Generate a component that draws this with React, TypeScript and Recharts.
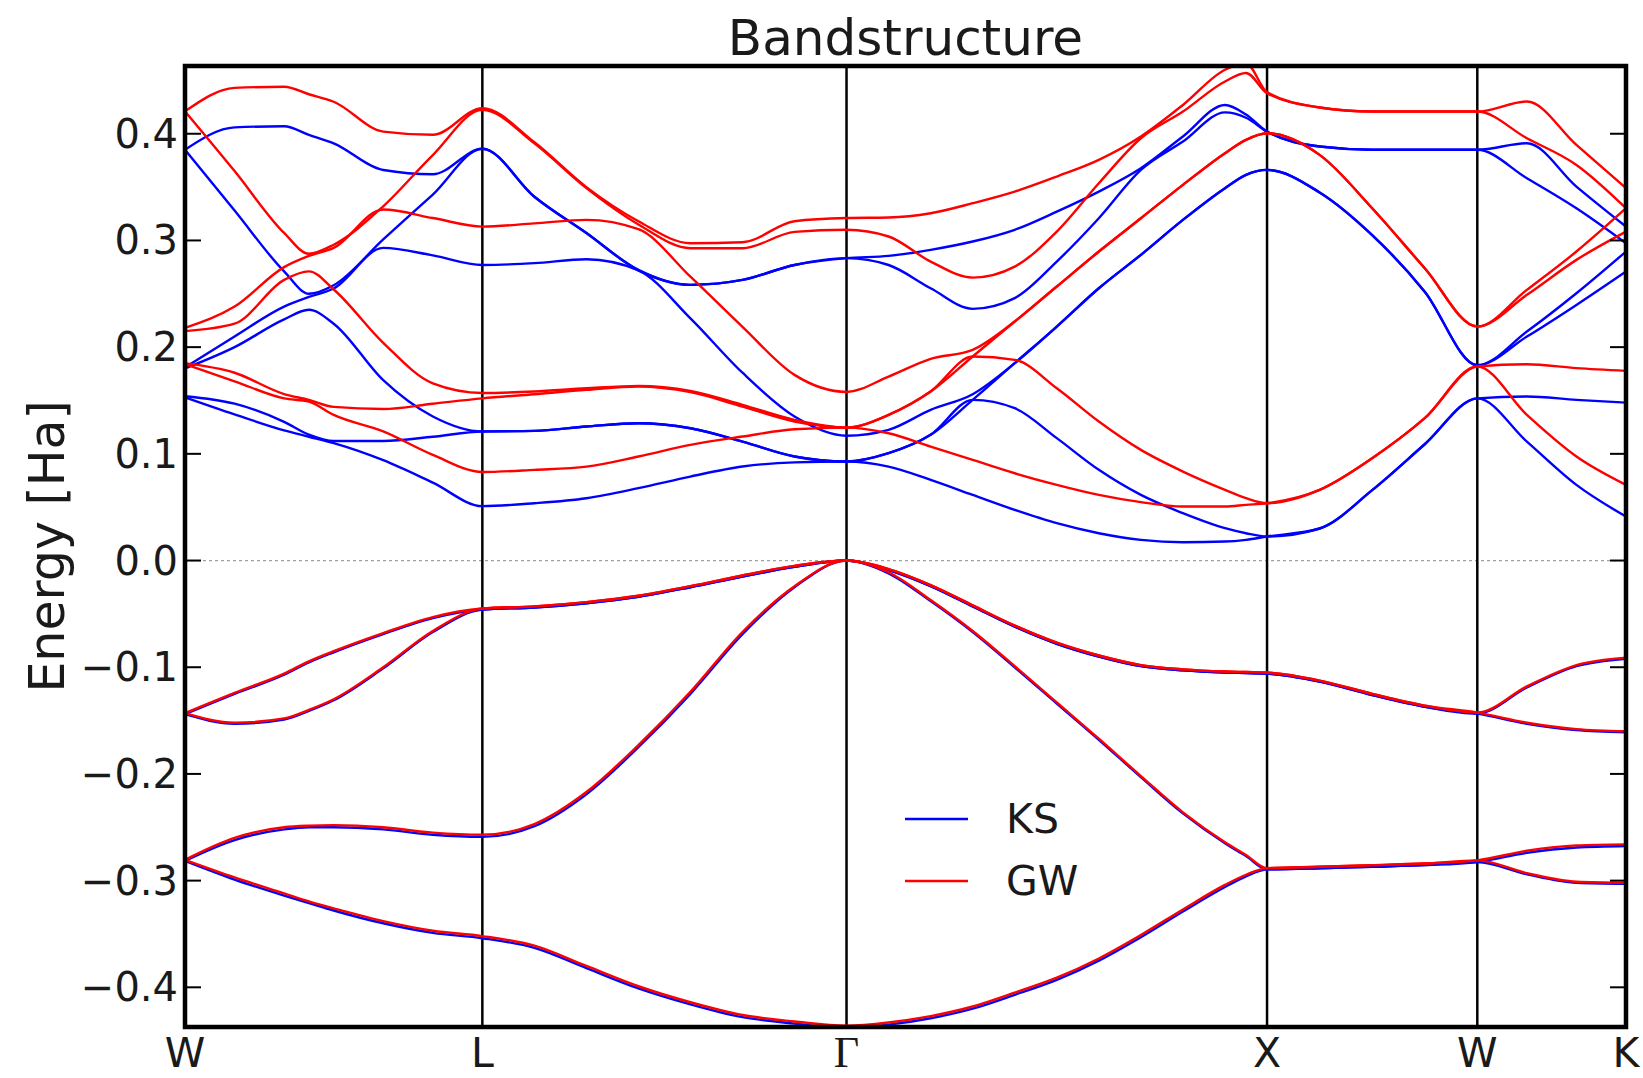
import React from 'react';
import { LineChart, Line, XAxis, YAxis, ReferenceLine } from 'recharts';

// k-path positions (units of 2pi/a), W-L-Γ-X-W-K
const kPath = [
  0, 0.1179, 0.2357, 0.2946, 0.3536, 0.4714, 0.5893, 0.7071,
  0.8308, 0.9545, 1.0782, 1.2019, 1.3257, 1.4494, 1.5731,
  1.6731, 1.7731, 1.8731, 1.9731, 2.0731, 2.1731, 2.2731, 2.3731, 2.4731, 2.5231, 2.5731,
  2.6981, 2.8231, 2.9481, 3.0731,
  3.1910, 3.3088, 3.4267,
];
const symK = [0, 0.7071, 1.5731, 2.5731, 3.0731, 3.4267];
const symLabels = ['W', 'L', 'Γ', 'X', 'W', 'K'];
const energyTicks = [-0.4, -0.3, -0.2, -0.1, 0, 0.1, 0.2, 0.3, 0.4];
const energyRange = [-0.4372, 0.4635];

// Kohn-Sham bands [Ha]
const ksV1 = [
  -0.2815, -0.299, -0.314, -0.321, -0.328, -0.34, -0.349, -0.354,
  -0.363, -0.382, -0.401, -0.416, -0.428, -0.434, -0.438,
  -0.435, -0.429, -0.42, -0.407, -0.393, -0.375, -0.353, -0.329, -0.306, -0.296, -0.2895,
  -0.2885, -0.287, -0.2855, -0.2825,
  -0.294, -0.302, -0.303,
];
const ksV2 = [
  -0.2815, -0.262, -0.252, -0.25, -0.25, -0.252, -0.257, -0.259,
  -0.249, -0.219, -0.175, -0.125, -0.069, -0.025, 0,
  -0.012, -0.038, -0.067, -0.1, -0.134, -0.168, -0.203, -0.237, -0.265, -0.277, -0.2895,
  -0.2885, -0.287, -0.2855, -0.2825,
  -0.274, -0.269, -0.2675,
];
const ksV3 = [
  -0.144, -0.153, -0.149, -0.141, -0.131, -0.101, -0.067, -0.046,
  -0.044, -0.04, -0.034, -0.025, -0.015, -0.006, 0,
  -0.009, -0.024, -0.043, -0.062, -0.078, -0.09, -0.099, -0.103, -0.105, -0.1055, -0.106,
  -0.1135, -0.126, -0.137, -0.1435,
  -0.153, -0.159, -0.161,
];
const ksV4 = [
  -0.144, -0.125, -0.107, -0.0955, -0.086, -0.069, -0.054, -0.046,
  -0.044, -0.04, -0.034, -0.025, -0.015, -0.006, 0,
  -0.009, -0.024, -0.043, -0.062, -0.078, -0.09, -0.099, -0.103, -0.105, -0.1055, -0.106,
  -0.1135, -0.126, -0.137, -0.1435,
  -0.119, -0.099, -0.092,
];
const ksC1 = [
  0.153, 0.137, 0.122, 0.116, 0.11, 0.094, 0.073, 0.051,
  0.0537, 0.0584, 0.0678, 0.0787, 0.0881, 0.092, 0.0928,
  0.088, 0.0756, 0.0615, 0.0475, 0.035, 0.0256, 0.0194, 0.0172, 0.0178, 0.0194, 0.0225,
  0.03, 0.066, 0.109, 0.152,
  0.1115, 0.0709, 0.0412,
];
const ksC2 = [
  0.154, 0.147, 0.13, 0.118, 0.112, 0.112, 0.116, 0.121,
  0.1215, 0.1256, 0.1287, 0.124, 0.1115, 0.0975, 0.0928,
  0.1006, 0.1178, 0.1506, 0.1428, 0.1147, 0.085, 0.0615, 0.0444, 0.0303, 0.0256, 0.0225,
  0.03, 0.066, 0.109, 0.152,
  0.1537, 0.1506, 0.148,
];
const ksC3 = [
  0.18, 0.2, 0.226, 0.235, 0.222, 0.169, 0.135, 0.121,
  0.1215, 0.1256, 0.1287, 0.124, 0.1115, 0.0975, 0.0928,
  0.1006, 0.1178, 0.1506, 0.185, 0.2193, 0.2552, 0.2865, 0.3193, 0.349, 0.3615, 0.3661,
  0.345, 0.305, 0.252, 0.183,
  0.2099, 0.2396, 0.2709,
];
const ksC4 = [
  0.181, 0.21, 0.238, 0.247, 0.255, 0.293, 0.286, 0.277,
  0.2787, 0.2824, 0.272, 0.227, 0.176, 0.135, 0.117,
  0.1225, 0.1412, 0.1559, 0.185, 0.2193, 0.2552, 0.2865, 0.3193, 0.349, 0.3615, 0.3661,
  0.345, 0.305, 0.252, 0.183,
  0.2146, 0.2505, 0.2896,
];
const ksC5 = [
  0.385, 0.328, 0.271, 0.25, 0.258, 0.301, 0.343, 0.386,
  0.341, 0.307, 0.272, 0.2584, 0.263, 0.277, 0.2834,
  0.277, 0.2552, 0.2359, 0.2459, 0.2802, 0.3208, 0.3661, 0.3927, 0.42, 0.415, 0.402,
  0.388, 0.385, 0.385, 0.385,
  0.3583, 0.3302, 0.2974,
];
const ksC6 = [
  0.385, 0.406, 0.407, 0.399, 0.391, 0.366, 0.362, 0.386,
  0.341, 0.307, 0.2724, 0.2584, 0.263, 0.277, 0.2834,
  0.2855, 0.2912, 0.299, 0.31, 0.327, 0.3458, 0.3677, 0.3974, 0.427, 0.418, 0.402,
  0.388, 0.385, 0.385, 0.385,
  0.3911, 0.3505, 0.313,
];

// GW quasiparticle bands [Ha]
const gwV1 = [
  -0.2805, -0.297, -0.312, -0.3195, -0.326, -0.338, -0.347, -0.352,
  -0.361, -0.38, -0.399, -0.414, -0.426, -0.432, -0.436,
  -0.433, -0.427, -0.418, -0.405, -0.391, -0.373, -0.351, -0.327, -0.304, -0.2945, -0.2883,
  -0.287, -0.2855, -0.284, -0.281,
  -0.293, -0.301, -0.302,
];
const gwV2 = [
  -0.2805, -0.26, -0.25, -0.2485, -0.248, -0.25, -0.255, -0.257,
  -0.247, -0.217, -0.173, -0.123, -0.067, -0.024, 0,
  -0.011, -0.037, -0.066, -0.099, -0.133, -0.167, -0.202, -0.236, -0.264, -0.276, -0.2883,
  -0.287, -0.2855, -0.284, -0.281,
  -0.272, -0.267, -0.266,
];
const gwV3 = [
  -0.143, -0.152, -0.148, -0.14, -0.13, -0.1, -0.066, -0.045,
  -0.043, -0.039, -0.033, -0.024, -0.014, -0.005, 0,
  -0.008, -0.023, -0.042, -0.061, -0.077, -0.089, -0.098, -0.102, -0.104, -0.1045, -0.105,
  -0.1125, -0.125, -0.136, -0.1425,
  -0.152, -0.158, -0.16,
];
const gwV4 = [
  -0.143, -0.124, -0.106, -0.0945, -0.085, -0.068, -0.053, -0.045,
  -0.043, -0.039, -0.033, -0.024, -0.014, -0.005, 0,
  -0.008, -0.023, -0.042, -0.061, -0.077, -0.089, -0.098, -0.102, -0.104, -0.1045, -0.105,
  -0.1125, -0.125, -0.136, -0.1425,
  -0.118, -0.098, -0.091,
];
const gwC1 = [
  0.184, 0.168, 0.152, 0.149, 0.1365, 0.121, 0.099, 0.083,
  0.085, 0.088, 0.0975, 0.1084, 0.1162, 0.123, 0.1246,
  0.1193, 0.1068, 0.0943, 0.0818, 0.0709, 0.0615, 0.0547, 0.0506, 0.0506, 0.0522, 0.0537,
  0.0662, 0.0959, 0.1334, 0.1818,
  0.1365, 0.0975, 0.0709,
];
const gwC2 = [
  0.185, 0.176, 0.156, 0.1506, 0.144, 0.142, 0.147, 0.152,
  0.1559, 0.16, 0.163, 0.1578, 0.1443, 0.1303, 0.1246,
  0.1365, 0.1584, 0.1912, 0.1881, 0.1615, 0.1303, 0.1037, 0.0834, 0.0662, 0.0584, 0.0537,
  0.0662, 0.0959, 0.1334, 0.1818,
  0.184, 0.1803, 0.1778,
];
const gwC3 = [
  0.215, 0.222, 0.263, 0.271, 0.254, 0.204, 0.166, 0.157,
  0.1584, 0.1615, 0.1637, 0.159, 0.1459, 0.1318, 0.1246,
  0.1365, 0.1584, 0.1912, 0.224, 0.2568, 0.2896, 0.3208, 0.3521, 0.3818, 0.3943, 0.4005,
  0.3802, 0.3302, 0.274, 0.2193,
  0.249, 0.2818, 0.3083,
];
const gwC4 = [
  0.218, 0.238, 0.275, 0.2855, 0.293, 0.329, 0.321, 0.313,
  0.316, 0.3193, 0.3105, 0.266, 0.219, 0.174, 0.158,
  0.1724, 0.189, 0.1974, 0.224, 0.2568, 0.2896, 0.3208, 0.3521, 0.3818, 0.3943, 0.4005,
  0.3802, 0.3302, 0.274, 0.2193,
  0.2537, 0.2896, 0.3302,
];
const gwC5 = [
  0.421, 0.365, 0.307, 0.2875, 0.296, 0.332, 0.38, 0.4225,
  0.391, 0.349, 0.315, 0.2927, 0.2927, 0.308, 0.31,
  0.3037, 0.2802, 0.2652, 0.2755, 0.3083, 0.3536, 0.3958, 0.4208, 0.449, 0.457, 0.438,
  0.4246, 0.4208, 0.4208, 0.4208,
  0.3958, 0.3708, 0.3302,
];
const gwC6 = [
  0.421, 0.443, 0.444, 0.437, 0.43, 0.402, 0.399, 0.424,
  0.392, 0.35, 0.318, 0.2974, 0.2983, 0.318, 0.321,
  0.3215, 0.3255, 0.3349, 0.3458, 0.3599, 0.3755, 0.3974, 0.427, 0.46, 0.466, 0.439,
  0.4246, 0.4208, 0.4208, 0.4208,
  0.4302, 0.3896, 0.349,
];

const ksBands = [ksV1, ksV2, ksV3, ksV4, ksC1, ksC2, ksC3, ksC4, ksC5, ksC6];
const gwBands = [gwV1, gwV2, gwV3, gwV4, gwC1, gwC2, gwC3, gwC4, gwC5, gwC6];

const rows = kPath.map((k, i) => {
  const row: Record<string, number> = { k };
  ksBands.forEach((b, j) => { row[`ks${j}`] = b[i]; });
  gwBands.forEach((b, j) => { row[`gw${j}`] = b[i]; });
  return row;
});

const W = 1643;
const H = 1078;
const PLOT_L = 185;
const PLOT_R = 1626;
const PLOT_T = 66;
const PLOT_B = 1027;
const SANS = '"DejaVu Sans", Verdana, sans-serif';

const YTick = (props: any) => {
  const { y, payload } = props;
  const v = payload.value as number;
  const txt = (v < 0 ? '\u2212' : '') + Math.abs(v).toFixed(1);
  return (
    <g>
      <line x1={PLOT_L} x2={PLOT_L + 16} y1={y} y2={y} stroke="#000" strokeWidth={2} />
      <line x1={PLOT_R - 16} x2={PLOT_R} y1={y} y2={y} stroke="#000" strokeWidth={2} />
      <text x={PLOT_L - 7} y={y} textAnchor="end" dominantBaseline="central" fontSize={40} fontFamily={SANS} fill="#1a1a1a">
        {txt}
      </text>
    </g>
  );
};

const XTick = (props: any) => {
  const { x, payload } = props;
  const idx = symK.indexOf(payload.value);
  const label = symLabels[idx] ?? '';
  const isGamma = label === 'Γ';
  return (
    <text
      x={x}
      y={PLOT_B + 40}
      textAnchor="middle"
      fontSize={isGamma ? 44 : 41}
      fontFamily={isGamma ? '"Liberation Serif", "DejaVu Serif", serif' : SANS}
      fill="#1a1a1a"
    >
      {label}
    </text>
  );
};

const App: React.FC = () => {
  return (
    <div style={{ position: 'absolute', left: 0, top: 0, width: W, height: H, background: '#fff' }}>
      <LineChart width={W} height={H} data={rows} margin={{ top: PLOT_T, right: W - PLOT_R, bottom: 0, left: 0 }}>
        <XAxis
          dataKey="k"
          type="number"
          domain={[0, symK[symK.length - 1]]}
          ticks={symK}
          interval={0}
          height={H - PLOT_B}
          axisLine={false}
          tickLine={false}
          tick={<XTick />}
        />
        <YAxis
          type="number"
          domain={energyRange}
          ticks={energyTicks}
          interval={0}
          allowDataOverflow
          width={PLOT_L}
          axisLine={false}
          tickLine={false}
          tick={<YTick />}
        />
        <ReferenceLine y={0} stroke="#a0a0a0" strokeWidth={1.2} strokeDasharray="3 3" />
        {symK.slice(1, -1).map((k, i) => (
          <ReferenceLine key={`sym-${i}`} x={k} stroke="#000" strokeWidth={2.5} />
        ))}
        {ksBands.map((_, j) => (
          <Line
            key={`ks-${j}`}
            dataKey={`ks${j}`}
            type="monotone"
            stroke="#0000ff"
            strokeWidth={2.4}
            dot={false}
            isAnimationActive={false}
          />
        ))}
        {gwBands.map((_, j) => (
          <Line
            key={`gw-${j}`}
            dataKey={`gw${j}`}
            type="monotone"
            stroke="#ff0000"
            strokeWidth={2.4}
            dot={false}
            isAnimationActive={false}
          />
        ))}
      </LineChart>
      <svg width={W} height={H} style={{ position: 'absolute', left: 0, top: 0, pointerEvents: 'none' }}>
        <rect x={PLOT_L} y={PLOT_T} width={PLOT_R - PLOT_L} height={PLOT_B - PLOT_T} fill="none" stroke="#000" strokeWidth={4.5} />
        <text x={(PLOT_L + PLOT_R) / 2} y={55} textAnchor="middle" fontSize={50} fontFamily={SANS} fill="#1a1a1a">
          Bandstructure
        </text>
        <text
          x={47}
          y={(PLOT_T + PLOT_B) / 2}
          transform={`rotate(-90, 47, ${(PLOT_T + PLOT_B) / 2})`}
          textAnchor="middle"
          dominantBaseline="central"
          fontSize={49}
          fontFamily={SANS}
          fill="#1a1a1a"
        >
          Energy [Ha]
        </text>
        <line x1={905} x2={968} y1={819} y2={819} stroke="#0000ff" strokeWidth={2.4} />
        <text x={1006} y={819} dominantBaseline="central" fontSize={41} fontFamily={SANS} fill="#1a1a1a">KS</text>
        <line x1={905} x2={968} y1={881} y2={881} stroke="#ff0000" strokeWidth={2.4} />
        <text x={1006} y={881} dominantBaseline="central" fontSize={41} fontFamily={SANS} fill="#1a1a1a">GW</text>
      </svg>
    </div>
  );
};

export default App;
